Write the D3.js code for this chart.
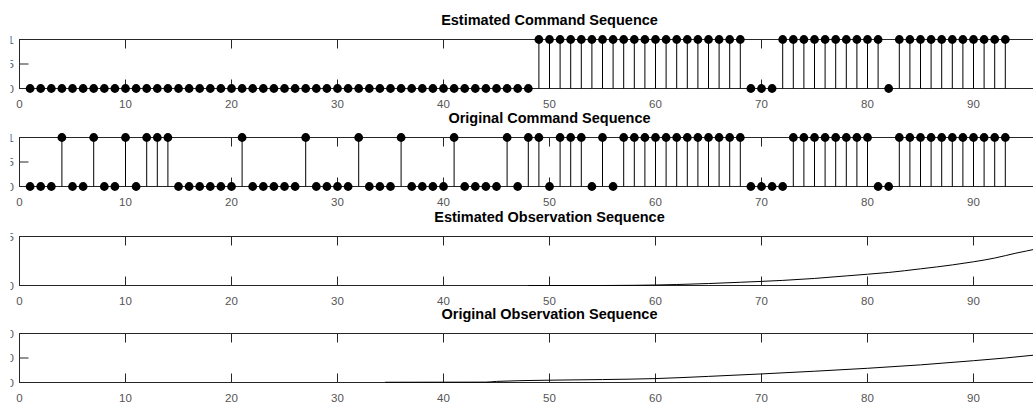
<!DOCTYPE html>
<html>
<head>
<meta charset="utf-8">
<script src="https://cdn.jsdelivr.net/npm/d3@7"></script>
<style>
  body { margin: 0; background: #fff; }
  text { font-family: "Liberation Sans", Arial, sans-serif; }
</style>
</head>
<body>
<svg id="chart"></svg>
<script>
const steps = d3.range(1, 94);

const estimatedCommand = [
  0, 0, 0, 0, 0, 0, 0, 0, 0, 0,
  0, 0, 0, 0, 0, 0, 0, 0, 0, 0,
  0, 0, 0, 0, 0, 0, 0, 0, 0, 0,
  0, 0, 0, 0, 0, 0, 0, 0, 0, 0,
  0, 0, 0, 0, 0, 0, 0, 0, 1, 1,
  1, 1, 1, 1, 1, 1, 1, 1, 1, 1,
  1, 1, 1, 1, 1, 1, 1, 1, 0, 0,
  0, 1, 1, 1, 1, 1, 1, 1, 1, 1,
  1, 0, 1, 1, 1, 1, 1, 1, 1, 1,
  1, 1, 1
];

const originalCommand = [
  0, 0, 0, 1, 0, 0, 1, 0, 0, 1,
  0, 1, 1, 1, 0, 0, 0, 0, 0, 0,
  1, 0, 0, 0, 0, 0, 1, 0, 0, 0,
  0, 1, 0, 0, 0, 1, 0, 0, 0, 0,
  1, 0, 0, 0, 0, 1, 0, 1, 1, 0,
  1, 1, 1, 0, 1, 0, 1, 1, 1, 1,
  1, 1, 1, 1, 1, 1, 1, 1, 0, 0,
  0, 0, 1, 1, 1, 1, 1, 1, 1, 1,
  0, 0, 1, 1, 1, 1, 1, 1, 1, 1,
  1, 1, 1
];

const estObsX = [48, 55, 58, 60, 62, 65, 68, 70, 72, 75, 78, 80, 82, 85, 88, 90, 92, 94, 96, 98];
const estObsY = [0, 0, 0.02, 0.05, 0.1, 0.2, 0.33, 0.42, 0.52, 0.72, 0.98, 1.15, 1.33, 1.7, 2.1, 2.42, 2.8, 3.3, 3.75, 4.3];

const origObsX = [34.5, 44, 45, 50, 55, 60, 65, 70, 75, 80, 85, 90, 93, 96, 98];
const origObsY = [0.1, 0.15, 0.45, 0.95, 1.2, 1.6, 2.5, 3.5, 4.6, 5.8, 7.2, 8.9, 10.0, 11.3, 12.2];

const xTicks = [0, 10, 20, 30, 40, 50, 60, 70, 80, 90];
const cmdTicks = [0, 0.5, 1];
const estObsTicks = [0, 5];
const origObsTicks = [0, 10, 20];

const width = 1033, height = 408;
const axisColor = '#262626';

const svg = d3.select('#chart')
  .attr('width', width)
  .attr('height', height);

const x = d3.scaleLinear()
  .domain([0, 100])
  .range([19.5, 1079.5]);

function drawAxes(top, bottom, yDomain, yTicks, title) {
  const y = d3.scaleLinear().domain(yDomain).range([bottom, top]);
  const g = svg.append('g');
  const tickLen = 9;

  // box
  g.append('rect')
    .attr('x', x(0)).attr('y', top)
    .attr('width', x(100) - x(0)).attr('height', bottom - top)
    .attr('fill', 'none').attr('stroke', axisColor).attr('stroke-width', 1);

  // x ticks, bottom and top, pointing inward
  xTicks.forEach(t => {
    g.append('line')
      .attr('x1', x(t)).attr('x2', x(t))
      .attr('y1', bottom).attr('y2', bottom - tickLen)
      .attr('stroke', axisColor);
    g.append('line')
      .attr('x1', x(t)).attr('x2', x(t))
      .attr('y1', top).attr('y2', top + tickLen)
      .attr('stroke', axisColor);
    g.append('text')
      .attr('x', x(t)).attr('y', bottom + 19)
      .attr('text-anchor', 'middle')
      .attr('font-size', 11.5)
      .attr('fill', '#555')
      .text(t);
  });

  yTicks.forEach(t => {
    g.append('line')
      .attr('x1', x(0)).attr('x2', x(0) + tickLen)
      .attr('y1', y(t)).attr('y2', y(t))
      .attr('stroke', axisColor);
    g.append('text')
      .attr('x', 14).attr('y', y(t) + 4)
      .attr('text-anchor', 'end')
      .attr('font-size', 11.5)
      .attr('fill', '#555')
      .text(t);
  });

  svg.append('text')
    .attr('x', x(50)).attr('y', top - 14.5)
    .attr('text-anchor', 'middle')
    .attr('font-size', 14.5)
    .attr('font-weight', 'bold')
    .attr('fill', '#000')
    .text(title);

  return y;
}

function drawStems(values, y) {
  const g = svg.append('g');
  g.selectAll('line')
    .data(steps)
    .enter()
    .append('line')
    .attr('x1', d => x(d)).attr('x2', d => x(d))
    .attr('y1', y(0))
    .attr('y2', (d, i) => y(values[i]))
    .attr('stroke', '#000')
    .attr('stroke-width', 1);
  g.selectAll('circle')
    .data(steps)
    .enter()
    .append('circle')
    .attr('cx', d => x(d))
    .attr('cy', (d, i) => y(values[i]))
    .attr('r', 4.4)
    .style('fill', '#000');
}

function drawLine(xs, ys, y) {
  const line = d3.line()
    .x(d => x(d[0]))
    .y(d => y(d[1]))
    .curve(d3.curveMonotoneX);
  svg.append('path')
    .datum(xs.map((v, i) => [v, ys[i]]))
    .attr('d', line)
    .attr('fill', 'none')
    .attr('stroke', '#000')
    .attr('stroke-width', 1);
}

const y1 = drawAxes(39.5, 88.5, [0, 1], cmdTicks, 'Estimated Command Sequence');
drawStems(estimatedCommand, y1);

const y2 = drawAxes(137.5, 186.5, [0, 1], cmdTicks, 'Original Command Sequence');
drawStems(originalCommand, y2);

const y3 = drawAxes(236.5, 285.5, [0, 5], estObsTicks, 'Estimated Observation Sequence');
drawLine(estObsX, estObsY, y3);

const y4 = drawAxes(333.5, 382.5, [0, 20], origObsTicks, 'Original Observation Sequence');
drawLine(origObsX, origObsY, y4);

// the left edge of the figure is cut off in the original crop
svg.append('rect')
  .attr('x', 0).attr('y', 0)
  .attr('width', 10.5).attr('height', height)
  .attr('fill', '#fff');
</script>
</body>
</html>
